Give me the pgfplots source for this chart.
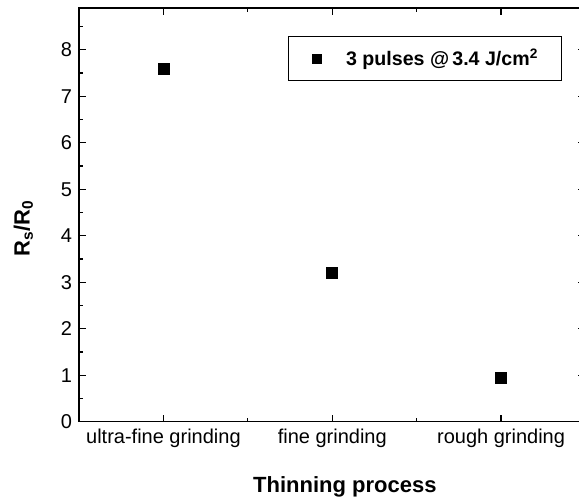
\documentclass[border=0pt]{standalone}
\usepackage{fontspec}
\setmainfont{Liberation Sans}
\usepackage{pgfplots}
\pgfplotsset{compat=1.18}
\begin{document}
\begin{tikzpicture}
\begin{axis}[
  at={(0pt,0pt)}, anchor=south west,
  scale only axis,
  width=253.25pt, height=206.85pt,
  xmin=-0.5, xmax=2.5,
  ymin=0, ymax=8.9,
  xtick={0,1,2},
  xticklabels={ultra-fine grinding, fine grinding, rough grinding},
  minor xtick={0.5,1.5},
  ytick={0,1,...,8},
  minor ytick={0.5,1.5,...,8.5},
  tick align=inside,
  major tick length=3.5pt,
  minor tick length=2pt,
  axis line style={line width=0.75pt},
  every tick/.style={black, line width=0.6pt},
  tick label style={font=\fontsize{10}{12}\selectfont},
  /pgf/number format/assume math mode=true,
  xlabel={\textbf{Thinning process}},
  ylabel={\textbf{R\textsubscript{s}/R\textsubscript{0}}},
  label style={font=\fontsize{11}{13}\selectfont},
  xlabel style={at={(axis description cs:0.525,-0.158)}, anchor=center},
  ylabel style={at={(axis description cs:-0.11,0.468)}, anchor=center},
  legend style={at={(rel axis cs:0.9536,0.932)}, anchor=north east,
    draw=black, line width=0.6pt, inner xsep=0pt, inner ysep=4pt,
    font=\fontsize{9.8}{11.5}\selectfont\bfseries},
  legend cell align=left,
  legend image code/.code={\path[draw=none] (0pt,0pt) -- (27pt,0pt);\draw[#1, mark size=2.25pt] plot coordinates {(14.5pt,0pt)};},
]
\addplot[only marks, mark=square*, mark size=2.75pt, black] coordinates {
  (0,7.58) (1,3.20) (2,0.94)
};
\addlegendentry{3 pulses @\,3.4 J/cm\textsuperscript{2}\kern9.5pt}
\end{axis}
\pgfresetboundingbox
\useasboundingbox (-39.5pt,-38.65pt) rectangle (250pt,210.85pt);
\end{tikzpicture}
\end{document}
